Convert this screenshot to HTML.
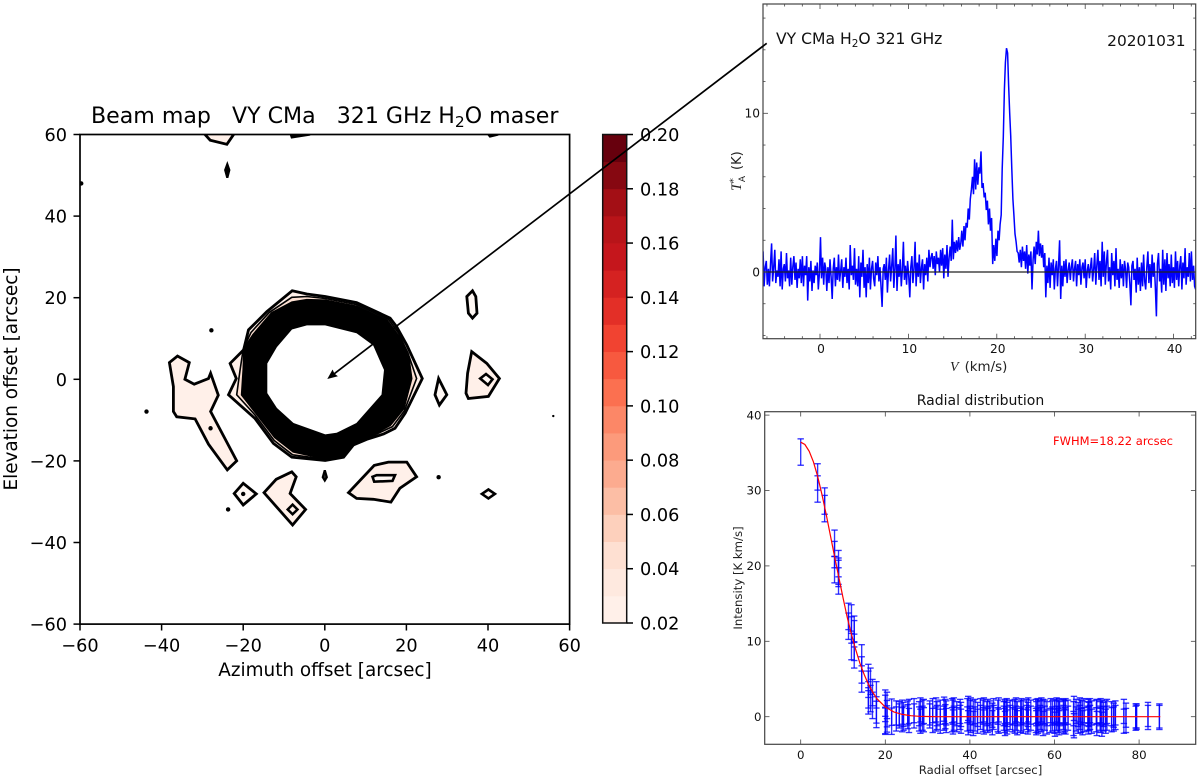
<!DOCTYPE html>
<html lang="en">
<head>
<meta charset="utf-8">
<title>VY CMa H2O 321 GHz beam map</title>
<style>
html,body{margin:0;padding:0;background:#fff;}
svg{display:block;font-family:"DejaVu Sans","Liberation Sans",sans-serif;}
</style>
</head>
<body>
<svg id="figure" xmlns="http://www.w3.org/2000/svg" width="1200" height="779" viewBox="0 0 1200 779">
  <defs>
    <clipPath id="map-clip"><rect x="80" y="134.5" width="489.6" height="489.6"/></clipPath>
    <clipPath id="spec-clip"><rect x="763" y="4" width="432.7" height="334.7"/></clipPath>
  </defs>
  <g id="map"></g>
  <g id="cbar"></g>
  <g id="spec" style="filter:blur(0.3px)"></g>
  <g id="radial" style="filter:blur(0.3px)"></g>

  <text x="91" y="123" font-size="22.1" fill="#000" xml:space="preserve">Beam map   VY CMa   321 GHz H<tspan font-size="15.5" dy="4">2</tspan><tspan dy="-4">O maser</tspan></text>
  <text x="325" y="676" font-size="18.4" text-anchor="middle">Azimuth offset [arcsec]</text>
  <text transform="translate(17,379) rotate(-90)" font-size="18.4" text-anchor="middle">Elevation offset [arcsec]</text>

  <text x="776" y="44" font-size="15.6" fill="#111">VY CMa H<tspan font-size="10.5" dy="3">2</tspan><tspan dy="-3">O 321 GHz</tspan></text>
  <text x="1185.5" y="46" font-size="15.4" text-anchor="end" fill="#111">20201031</text>
  <text x="950" y="371" font-size="13.4" fill="#222"><tspan font-family="'Liberation Serif',serif" font-style="italic" font-size="14">V</tspan><tspan dx="6">(km/s)</tspan></text>
  <text transform="translate(741,191) rotate(-90)" font-size="13" fill="#222"><tspan font-family="'Liberation Serif',serif" font-style="italic" font-size="15">T</tspan><tspan font-size="9" dy="-5">*</tspan><tspan font-size="9" dy="9" dx="-4">A</tspan><tspan dy="-4" dx="6">(K)</tspan></text>

  <text x="980.5" y="405" font-size="14" text-anchor="middle" fill="#111">Radial distribution</text>
  <text x="1053" y="445" font-size="11.5" fill="#f00">FWHM=18.22 arcsec</text>
  <text x="980.5" y="774" font-size="11.7" text-anchor="middle" fill="#222">Radial offset [arcsec]</text>
  <text transform="translate(742,578) rotate(-90)" font-size="11.7" text-anchor="middle" fill="#222">Intensity [K km/s]</text>

  <line x1="766.7" y1="43.3" x2="334" y2="373.9" stroke="#000" stroke-width="1.7"/>
  <polygon points="327.3,379 337.9,376.3 334.4,373.6 332.6,369.5" fill="#000"/>
</svg>
<script>
// ---------- Beam map data (azimuth, elevation in arcsec) ----------
const mapXTicks = [-60, -40, -20, 0, 20, 40, 60];
const mapYTicks = [-60, -40, -20, 0, 20, 40, 60];
const contourOuter = [[-8,21.7],[-4.4,20.9],[0.1,20.3],[7.8,18.8],[16,15],[17.6,12.9],[20.1,8.4],[23.9,0.2],[19.7,-8.3],[17.2,-12],[14.4,-13.4],[10.3,-14.7],[7,-16.1],[4.6,-19.1],[0.1,-19.9],[-8.1,-19.1],[-12.6,-15.7],[-17.1,-9.6],[-23.6,-3.8],[-21.7,0.2],[-23.2,3.9],[-19.9,7.2],[-18.7,12.1],[-14.2,16.6]];
const contourMiddle = [[-8.1,20.1],[-4.4,20.3],[0.1,19.8],[7.8,18.3],[15.6,14.7],[18.1,11.3],[20.4,6.4],[22.5,0.2],[19.5,-7.7],[16.6,-11.6],[12.7,-13.4],[7,-15.9],[4.6,-18.8],[0.1,-19.6],[-7.9,-18.5],[-12.4,-15],[-17.1,-8.75],[-21.6,-3.8],[-20.8,2],[-20,7.4],[-18.1,11.5],[-13.6,16.4]];
const contourBand = [[-8.1,18.8],[-4.4,19.4],[0.1,19.3],[7.8,17.8],[15.2,14.4],[18.6,9.8],[20.6,4.7],[21.2,0.2],[19.3,-7.1],[16,-11.2],[11.1,-13.9],[7,-15.7],[4.6,-18.5],[0.1,-19.4],[-7.7,-17.7],[-12.2,-14.2],[-17.1,-7.9],[-20.3,-3.8],[-19.9,2.3],[-19.7,7.6],[-17.5,10.9],[-13,16.2]];
const contourHole = [[-8.1,12.3],[-4.4,13.3],[0.1,13.3],[7.8,11.4],[11.9,8.4],[14.6,2.3],[14,-3.8],[7.8,-10.8],[2.9,-13.2],[0.1,-13.6],[-7.7,-10.8],[-11.8,-7.1],[-14.2,-3.4],[-14.2,3.9],[-11.8,8]];
const islandWest = [[-38.1,4.1],[-36.1,5.7],[-33.2,4.1],[-34.3,0],[-32,-1.2],[-28.5,0.2],[-28,1.5],[-26.1,-3.9],[-28,-7.9],[-21.6,-20],[-23.9,-22.2],[-28.5,-15.9],[-31.8,-9.7],[-36.3,-9.2],[-37.1,-7.9],[-37.1,-1.8]];
const islandSouthWest = [[-14.9,-27.8],[-11.9,-24.5],[-8.1,-22.7],[-7,-23.9],[-8.5,-28],[-4.7,-31.9],[-7.9,-35.7]];
const islandSouthWestCore = [[-9.1,-31.9],[-7.9,-30.7],[-6.7,-31.9],[-7.9,-33.1]];
const islandSouth = [[5.8,-27.8],[12.1,-21.1],[15.6,-20.3],[20.1,-20.3],[22.5,-23.9],[18.4,-26.7],[16.2,-30.1],[11.9,-29.4],[7.8,-29.2]];
const islandSouthCore = [[11.7,-23.9],[12.7,-23.5],[17.2,-23.5],[16.6,-24.9],[12.1,-25.1]];
const islandEast = [[36,6.8],[39.7,3.9],[42.8,0.2],[40.1,-4.2],[35.2,-4.7],[34.6,-3.4],[35,1.5]];
const islandEastCore = [[38.1,0.2],[39.5,1.3],[41.1,0],[40,-1.4]];
const islandNorthEast = [[34.8,20.3],[36.2,21.7],[37,20.3],[37.3,16.2],[36.2,15],[35.2,16.2]];
const islandNearRing = [[27.9,0.2],[29.9,-3.8],[28.1,-6.3],[27,-3.8]];
const islandDiamond = [[-22.2,-28],[-20,-25.5],[-16.8,-28.1],[-20,-30.8]];
const islandSouthEastDiamond = [[38.5,-28.1],[40.1,-27],[41.7,-28.1],[40.1,-29.2]];
const islandTop = [[-29.8,60.5],[-28.1,58.6],[-24,57.6],[-22,60.5]];
const islandTopMid = [[-8.5,60.5],[-8.1,59.3],[-3.6,60]];
const islandTopEast = [[39.7,60.5],[40.5,59.5],[42.5,60]];
const dropNorth = [[-23.9,52.7],[-23.4,51.3],[-23.9,49.4],[-24.4,51.3]];
const dropSouth = [[0,-22.3],[0.5,-24],[0,-24.8],[-0.5,-24]];
const dotPeaks = [[-27.8,12],[-43.7,-7.9],[-23.7,-31.9],[-28,-12],[-20,-28.1],[27.9,-24],[-59.7,48]];
const tinyDots = [[56,-9]];
const colorLevels = [0.02,0.03,0.04,0.05,0.06,0.07,0.08,0.09,0.10,0.11,0.12,0.13,0.14,0.15,0.16,0.17,0.18,0.19,0.20];
const colorSwatches = ["#fff0e9","#fee9df","#fee0d2","#fdd0bc","#fcbea5","#fcab8f","#fc9a7b","#fc8767","#fb7050","#f7593f","#f14331","#e32f27","#d52221","#c5161c","#b81419","#a30f15","#860811","#67000d"];
const colorTicks = ["0.02","0.04","0.06","0.08","0.10","0.12","0.14","0.16","0.18","0.20"];

// ---------- Spectrum data ----------
const specXTicks = [0, 10, 20, 30, 40];
const specXMinorTicks = [-6,-4,-2,2,4,6,8,12,14,16,18,22,24,26,28,32,34,36,38,42];
const specYTicks = [0, 10];
const specYMinorTicks = [-4,-2,2,4,6,8,12,14,16];
const specVelocityStart = -6.44;
const specVelocityEnd = 42.5;
const specIntensity = [
1.3,-0.9,0.3,0.7,-0.8,0.2,-0.9,0.5,1.8,-0.6,0.3,1.4,-0.7,0.1,-0.3,0.8,-0.9,1.3,-1.1,0.2,0.5,-0.6,1.2,-0.4,
0.1,-0.9,0.9,-0.8,0.3,1.0,-0.5,0.6,-1.0,0.2,-0.4,0.8,-0.7,1.0,-0.9,0.4,-0.2,1.0,-1.8,0.3,-0.6,0.7,-1.2,0.1,
-0.7,0.4,-0.2,0.6,-1.1,-0.1,2.2,-0.4,0.9,-0.8,0.6,0.2,-1.2,0.3,-0.7,0.8,-0.3,-1.7,0.2,0.9,-0.9,0.3,-0.5,1.1,
-0.6,0.1,0.8,-1.0,0.3,-0.3,0.9,-0.7,0.2,-1.1,1.7,-0.2,0.4,-0.5,1.5,-0.8,0.2,-0.9,1.0,-1.6,0.6,-0.3,1.4,-1.0,
0.3,-1.6,0.5,-0.7,0.9,-1.1,0.2,0.7,-0.4,-0.9,0.6,-0.2,1.0,-0.6,0.3,-1.0,-2.2,0.2,0.5,-0.5,0.9,-1.3,0.1,1.1,
-0.6,0.4,1.5,-1.0,0.2,2.3,-1.2,0.5,-0.3,0.8,-0.9,0.1,1.9,-0.5,0.4,-0.8,0.7,-0.2,-1.6,0.3,1.0,-0.7,0.2,1.9,
-0.9,0.6,-0.3,1.1,-0.7,0.3,0.8,-1.1,0.5,-0.2,0.9,-0.6,1.4,0.3,0.9,1.2,0.2,1.0,-0.2,1.3,0.5,0.9,0.0,1.4,
0.4,1.5,-0.4,1.1,0.2,1.7,-0.3,0.9,1.6,0.7,3.3,0.8,1.9,1.2,2.0,1.3,2.2,1.4,1.8,2.6,1.6,2.9,2.0,3.1,
2.8,4.0,3.3,4.6,5.2,6.0,4.9,7.1,5.2,6.9,5.5,6.6,6.2,7.6,5.3,5.6,4.7,5.0,3.9,4.5,3.0,4.0,2.6,3.4,
0.5,1.7,0.7,2.1,1.0,2.6,2.0,3.0,3.6,6.5,8.5,11.5,13.2,14.1,13.8,11.8,10.0,8.6,6.5,4.6,3.6,2.4,1.9,1.3,
1.2,0.6,1.4,0.3,1.6,0.7,1.3,0.2,1.7,-0.1,1.1,0.4,1.3,-1.1,0.8,1.6,0.5,1.9,1.1,2.6,1.0,1.8,0.9,1.7,
0.3,1.2,-1.6,0.4,-0.7,0.9,-1.0,0.6,-0.2,0.8,-1.1,0.2,0.7,-0.9,0.5,2.0,-1.7,0.4,-0.9,0.7,-0.3,0.8,-0.7,0.1,
0.6,-0.5,0.3,0.8,-0.6,0.2,0.7,-0.9,0.5,-0.2,0.8,-0.8,0.3,0.6,-0.4,0.8,-1.0,0.1,0.5,-0.4,0.3,0.9,-0.6,0.2,
1.2,-0.8,0.4,1.4,-0.5,0.7,-0.9,1.9,-0.3,1.3,-0.8,0.6,1.4,-0.6,0.3,-1.1,1.2,-0.2,0.7,-0.9,1.5,-0.5,0.2,-1.0,
0.8,-0.4,0.5,-0.9,0.7,0.2,-1.0,0.6,0.3,-0.7,-2.1,0.4,0.7,-0.5,0.2,-1.3,0.9,-0.8,0.3,-1.2,0.6,-0.9,1.1,-0.6,
-1.1,0.3,1.3,-0.7,0.5,-1.0,1.1,-0.3,0.6,-0.9,-2.8,0.5,1.2,-0.6,0.2,-1.3,1.4,-0.8,0.8,-1.2,1.2,-0.4,0.5,-0.9,
1.1,-0.7,0.3,-1.0,1.3,-0.5,0.7,-0.9,0.4,1.0,-1.1,0.6,-0.4,1.5,-0.8,0.3,-0.3,1.2,-0.6,1.3,-0.5,0.4,-0.9,-1.1
];

// ---------- Radial profile data ----------
const radialXTicks = [0, 20, 40, 60, 80];
const radialYTicks = [0, 10, 20, 30, 40];
const innerError = 1.75;
const outerError = 1.6;
const innerOffsets = [0,4,4,5.66,5.66,8,8,8,8.94,8.94,8.94,8.94,11.3,11.3,12,12,12,12.65,12.65,12.65,12.65,14.42,14.42,14.42,16,16,16,16,16.5,16.5,16.97,16.97,17.9,17.9,17.9,20,20,20,20,20.4,20.4,20.4,21.5,21.5];
const innerIntensity = [35.1,31.8,30.2,28.6,27.6,23,21.5,19.5,20.3,19.3,18,19,13.3,12,13.1,11.5,9.3,11.6,11,8.2,9.2,7.8,6.2,5,5.2,4.3,2.1,2.9,4.7,2.4,3.2,1.5,2.9,0.9,0.3,1.8,1.1,-0.6,-0.5,1.5,-0.3,0.4,0.6,-0.6];
const outerOffsets = [22.6,23.3,24,24.3,25.3,25.6,26.8,28,28.3,28.8,
29.1,30.5,31.2,32,32.2,33,33.9,34.2,34.4,35.8,
36,36.2,36.9,37.7,37.9,39.4,39.6,40,40.2,40.8,
41.2,41.8,42.5,43.1,43.3,44,44.2,44.7,45.3,45.6,
46.6,46.8,48,48.2,48.3,48.7,48.8,49.5,50.1,50.6,
50.9,51.2,52,52.2,52.6,53.4,53.7,53.8,54.4,55.6,
55.7,56,56.1,56.6,56.9,57.3,57.7,58.2,59.1,59.5,
60,60.1,60.5,60.9,61.1,61.2,62.1,62.2,62.5,62.6,
63.2,64.5,64.6,65.1,65.6,66,66.2,66.6,67,67.9,
68,68.1,68.4,68.8,69.9,70,70.8,70.9,71.2,71.6,
72.1,72.4,73.5,74,74.4,76.4,76.9,79.2,79.4,82.1,
84.8];
const outerIntensityHigh = [0.5,0.4,0.6,0.3,0.5,0.7,0.8,0.4,0.9,0.6,
0.7,0.5,0.8,0.9,0.4,0.6,1,0.7,0.5,0.8,
0.6,0.9,0.4,0.7,0.3,0.8,1.1,0.6,0.9,0.5,
0.7,0.3,0.8,0.6,0.9,0.4,0.7,0.5,0.2,0.8,
0.6,0.9,0.4,0.7,0.5,0.8,0.3,0.6,0.5,0.7,
0.9,0.4,0.6,0.8,0.5,0.7,0.3,0.9,0.6,0.7,
0.4,0.8,0.6,0.5,0.9,0.7,0.6,0.4,0.8,0.5,
0.7,0.5,0.9,0.6,0.8,0.4,0.7,0.6,0.5,0.8,
0.6,0.4,1.1,0.7,0.3,0.9,0.6,0.5,0.8,0.4,
0.7,0.3,0.8,0.5,0.6,0.7,0.4,0.8,0.6,0.3,
0.5,0.7,0.4,0.2,0.5,0.7,0.2,0.1,0.1,0.3,
0.1];
const outerIntensityLow = [-0.3,0.1,-0.4,-0.2,0,-0.5,0.1,-0.3,-0.6,-0.2,
-0.4,0.1,-0.5,-0.3,-0.1,-0.6,-0.2,0,-0.5,-0.4,
-0.7,-0.2,-0.4,-0.1,-0.6,-0.3,-0.8,-0.2,-0.5,-0.9,
-0.3,-0.6,-0.1,-0.4,-0.7,-0.2,-0.5,-0.3,-0.8,-0.1,
-0.4,-0.6,-0.2,-0.5,-0.9,-0.3,-0.7,-0.1,-0.4,-0.6,
-0.2,-0.8,-0.5,-0.3,-0.6,-0.1,-0.7,-0.4,-0.2,-0.5,
-0.8,-0.3,-0.6,-0.1,-0.4,-0.9,-0.2,-0.7,-0.5,-0.3,
-0.6,-1,-0.2,-0.5,-0.8,-0.3,-0.1,-0.6,-0.4,-0.7,
-0.2,-0.9,-1.2,-0.3,-0.6,-0.1,-0.5,-0.8,-0.4,-0.2,
-0.7,-0.3,-0.1,-0.6,-0.4,-0.9,-0.2,-0.5,-1,-0.3,
-0.6,-0.2,-0.4,-0.3,-0.1,-0.6,-0.5,-0.2,-0.1,-0.1,
-0.1];
const fitOffsets = [0,1,2,3,4,5,6,7,8,9,10,11,12,13,14,15,16,17,18,20,22,24,26,28,30,32,85];
const fitIntensity = [36.4,36.1,35.2,33.8,31.9,29.5,26.9,24.1,21.3,18.5,15.8,13.2,10.9,8.9,7.1,5.6,4.3,3.3,2.4,1.28,0.64,0.3,0.13,0.05,0.02,0,0];

// ---------- Axis functions ----------
const mapX = v => 324.8 + v * 4.08;
const mapY = v => 379.3 - v * 4.08;
const cbarY = v => 623 - (v - 0.02) * (488.5 / 0.18);
const specX = v => 820 + v * 8.84;
const specY = v => 272 - v * 15.87;
const radX = v => 800.7 + v * 4.23;
const radY = v => 716.7 - v * 7.54;

const NS = 'http://www.w3.org/2000/svg';
function make(parent, tag, attrs, text) {
  const el = document.createElementNS(NS, tag);
  for (const k in attrs) el.setAttribute(k, attrs[k]);
  if (text !== undefined) el.textContent = text;
  parent.appendChild(el);
  return el;
}
const toPoints = (arr, fx, fy) => arr.map(p => fx(p[0]).toFixed(1) + ',' + fy(p[1]).toFixed(1)).join(' ');

// ---------- Beam map ----------
const mapG = document.getElementById('map');
const clipG = make(mapG, 'g', {'clip-path': 'url(#map-clip)'});


const PALE = '#fff0e9';
function contour(arr, fill, sw) {
  const el = make(clipG, 'polygon', {
    points: toPoints(arr, mapX, mapY), fill: fill, stroke: '#000',
    'stroke-width': sw, 'stroke-linejoin': 'miter', 'stroke-miterlimit': 3
  });
  
  
  return el;
}
contour(islandTop, PALE, 2.8);
contour(islandTopMid, '#000', 2.2);
contour(islandTopEast, '#000', 2.2);
contour(islandWest, PALE, 2.8);
contour(islandSouthWest, PALE, 2.8);
contour(islandSouthWestCore, PALE, 2.5);
contour(islandSouth, PALE, 2.8);
contour(islandSouthCore, '#fff8f4', 2.6);
contour(islandEast, PALE, 2.8);
contour(islandEastCore, '#fff8f4', 2.6);
contour(islandNorthEast, '#fff8f4', 2.8);
contour(islandNearRing, '#fff8f4', 2.8);
contour(islandDiamond, '#fff8f4', 2.8);
contour(islandSouthEastDiamond, '#fff8f4', 2.6);
contour(dropNorth, '#000', 2.2);
contour(dropSouth, '#333', 2.2);
contour(contourOuter, PALE, 2.8);
contour(contourMiddle, '#fde0d2', 1.6);
const ring = contour(contourBand, '#000', 2.4);

const hole = contour(contourHole, '#ffffff', 0.8);

dotPeaks.forEach(p => {
  const d = make(clipG, 'circle', {cx: mapX(p[0]), cy: mapY(p[1]), r: 2.2, fill: '#000'});
  
  
});
tinyDots.forEach(p => {
  const d = make(clipG, 'circle', {cx: mapX(p[0]), cy: mapY(p[1]), r: 1.2, fill: '#000'});
  
  
});
const mapFrame = make(mapG, 'rect', {x: 80, y: 134.5, width: 489.6, height: 489.6, fill: 'none', stroke: '#000', 'stroke-width': 1.7});


mapXTicks.forEach(v => {
  const t = make(mapG, 'line', {x1: mapX(v), x2: mapX(v), y1: 624, y2: 630.5, stroke: '#000', 'stroke-width': 1.5});
  
  
  const l = make(mapG, 'text', {x: mapX(v), y: 651.5, 'font-size': 17.7, 'text-anchor': 'middle'}, String(v).replace('-', '\u2212'));
  
  
});
mapYTicks.forEach(v => {
  const t = make(mapG, 'line', {x1: 73.5, x2: 80, y1: mapY(v), y2: mapY(v), stroke: '#000', 'stroke-width': 1.5});
  
  
  const l = make(mapG, 'text', {x: 67, y: mapY(v) + 6.5, 'font-size': 17.7, 'text-anchor': 'end'}, String(v).replace('-', '\u2212'));
  
  
});

// ---------- Colorbar ----------
const cbarG = document.getElementById('cbar');
colorSwatches.forEach((c, i) => {
  const top = cbarY(colorLevels[i + 1]);
  const bottom = cbarY(colorLevels[i]);
  const r = make(cbarG, 'rect', {x: 602.7, y: top, width: 24, height: bottom - top + 0.4, fill: c});
  
  
});
const cbarFrame = make(cbarG, 'rect', {x: 602.7, y: 134.5, width: 24, height: 488.5, fill: 'none', stroke: '#111', 'stroke-width': 1.5});


colorTicks.forEach(s => {
  const y = cbarY(parseFloat(s));
  const t = make(cbarG, 'line', {x1: 626.7, x2: 633, y1: y, y2: y, stroke: '#000', 'stroke-width': 1.5});
  
  
  const l = make(cbarG, 'text', {x: 640, y: y + 6.5, 'font-size': 17.7}, s);
  
  
});

// ---------- Spectrum ----------
const specG = document.getElementById('spec');
const specClip = make(specG, 'g', {'clip-path': 'url(#spec-clip)'});


const specStep = (specVelocityEnd - specVelocityStart) / (specIntensity.length - 1);
const specPts = specIntensity.map((v, i) => specX(specVelocityStart + i * specStep).toFixed(1) + ',' + specY(v).toFixed(1)).join(' ');
const specLine = make(specClip, 'polyline', {points: specPts, fill: 'none', stroke: '#0000ff', 'stroke-width': 1.5, 'stroke-linejoin': 'miter'});


const baseLine = make(specG, 'line', {x1: 763, x2: 1195.7, y1: specY(0), y2: specY(0), stroke: '#222', 'stroke-width': 1.2});


const specFrame = make(specG, 'rect', {x: 763, y: 4, width: 432.7, height: 334.7, fill: 'none', stroke: '#444', 'stroke-width': 1.2});


function specXTick(v, len) {
  const a = make(specG, 'line', {x1: specX(v), x2: specX(v), y1: 338.7, y2: 338.7 - len, stroke: '#444', 'stroke-width': 0.8});
  
  
  const b = make(specG, 'line', {x1: specX(v), x2: specX(v), y1: 4, y2: 4 + len, stroke: '#444', 'stroke-width': 0.8});
  
  
}
function specYTick(v, len) {
  const a = make(specG, 'line', {x1: 763, x2: 763 + len, y1: specY(v), y2: specY(v), stroke: '#444', 'stroke-width': 0.8});
  
  
  const b = make(specG, 'line', {x1: 1195.7, x2: 1195.7 - len, y1: specY(v), y2: specY(v), stroke: '#444', 'stroke-width': 0.8});
  
  
}
specXMinorTicks.forEach(v => specXTick(v, 2.5));
specYMinorTicks.forEach(v => specYTick(v, 2.5));
specXTicks.forEach(v => {
  specXTick(v, 5);
  const l = make(specG, 'text', {x: specX(v) + 1, y: 352.8, 'font-size': 12.2, 'text-anchor': 'middle', fill: '#111'}, String(v));
  
  
});
specYTicks.forEach(v => {
  specYTick(v, 5);
  const l = make(specG, 'text', {x: 760, y: specY(v) + 4.3, 'font-size': 12.2, 'text-anchor': 'end', fill: '#111'}, String(v));
  
  
});

// ---------- Radial profile ----------
const radG = document.getElementById('radial');
function errorBar(r, v, err) {
  const g = make(radG, 'g', {stroke: '#0000ff', 'stroke-opacity': 0.8, 'stroke-width': 1.35, fill: 'none'});
  
  
  const x = radX(r);
  const hi = radY(v + err);
  const lo = radY(v - err);
  make(g, 'line', {x1: x, x2: x, y1: hi, y2: lo});
  make(g, 'line', {x1: x - 3.2, x2: x + 3.2, y1: hi, y2: hi});
  make(g, 'line', {x1: x - 3.2, x2: x + 3.2, y1: lo, y2: lo});
}
innerOffsets.forEach((r, i) => errorBar(r, innerIntensity[i], innerError));
outerOffsets.forEach((r, i) => {
  errorBar(r, outerIntensityHigh[i], outerError);
  errorBar(r, outerIntensityLow[i], outerError);
});
const fitPts = fitOffsets.map((r, i) => radX(r).toFixed(1) + ',' + radY(fitIntensity[i]).toFixed(1)).join(' ');
const fitLine = make(radG, 'polyline', {points: fitPts, fill: 'none', stroke: '#ff0000', 'stroke-width': 1.2});


const radFrame = make(radG, 'rect', {x: 764.7, y: 411.7, width: 431, height: 332.6, fill: 'none', stroke: '#444', 'stroke-width': 1.2});


radialXTicks.forEach(v => {
  const a = make(radG, 'line', {x1: radX(v), x2: radX(v), y1: 744.3, y2: 739.5, stroke: '#444', 'stroke-width': 0.8});
  
  
  const b = make(radG, 'line', {x1: radX(v), x2: radX(v), y1: 411.7, y2: 416.5, stroke: '#444', 'stroke-width': 0.8});
  
  
  const l = make(radG, 'text', {x: radX(v), y: 759, 'font-size': 11.8, 'text-anchor': 'middle', fill: '#111'}, String(v));
  
  
});
radialYTicks.forEach(v => {
  const a = make(radG, 'line', {x1: 764.7, x2: 769.5, y1: radY(v), y2: radY(v), stroke: '#444', 'stroke-width': 0.8});
  
  
  const b = make(radG, 'line', {x1: 1195.7, x2: 1190.9, y1: radY(v), y2: radY(v), stroke: '#444', 'stroke-width': 0.8});
  
  
  const l = make(radG, 'text', {x: 761.5, y: radY(v) + 4.2, 'font-size': 11.8, 'text-anchor': 'end', fill: '#111'}, String(v));
  
  
});
</script>
</body>
</html>
